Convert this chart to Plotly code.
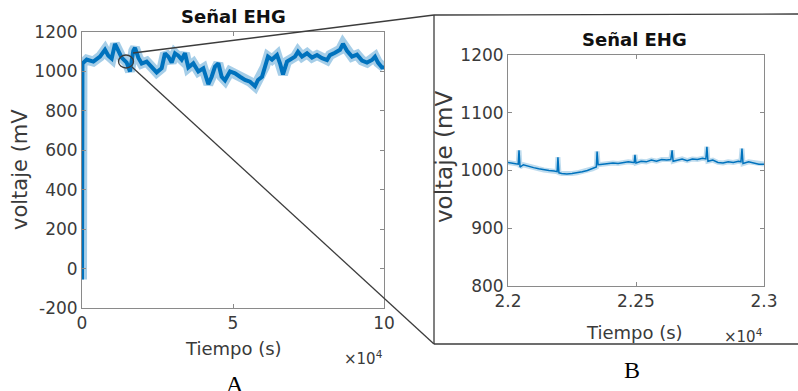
import plotly.graph_objects as go

W, H = 798, 391

# ---------------- data ----------------
# Panel A: full EHG recording (time in s, voltage in mV)
t_full = [0, 150, 1550, 3753, 5960, 7616, 8720, 9823, 10927, 12030, 13134, 14790,
          15894, 16998, 17550, 18653, 19757, 21413, 23068, 24724, 26380, 27483,
          28587, 29691, 30795, 31898, 33002, 34106, 35210, 36865, 38521, 40177,
          41832, 42936, 44040, 45143, 46247, 47351, 49007, 50662, 52318, 53974,
          55629, 57285, 58278, 59603, 60596, 61589, 62914, 64570, 65563, 66556,
          67881, 68874, 70530, 71523, 72848, 74503, 76159, 77815, 79470, 81126,
          82119, 83775, 85430, 86424, 87748, 89404, 91060, 92715, 94371, 96026,
          97020, 98013, 99338, 100000]
v_full = [-55, 1040, 1060, 1050, 1075, 1110, 1080, 1065, 1140, 1100, 1070, 1045,
          1000, 1105, 1120, 1070, 1040, 1050, 1024, 995, 1016, 1092,
          1075, 1045, 1092, 1080, 1060, 1092, 1020, 1041, 1000, 1016,
          935, 973, 1024, 1041, 973, 955, 1000, 990, 973, 957,
          948, 925, 957, 973, 1024, 1075, 1060, 1083, 1041, 985,
          1050, 1058, 1075, 1100, 1075, 1092, 1070, 1083, 1067, 1058,
          1083, 1095, 1110, 1140, 1105, 1075, 1085, 1055, 1045, 1058,
          1075, 1045, 1020, 1020]

# Panel B: zoomed segment 2.2e4 - 2.3e4 s
t_zoom = [22000, 22020, 22040, 22043, 22047, 22060, 22080, 22100, 22120, 22140,
          22160, 22180, 22192, 22195, 22199, 22210, 22230, 22250, 22270, 22290,
          22310, 22330, 22345, 22348, 22352, 22370, 22390, 22410, 22430, 22450,
          22470, 22490, 22493, 22496, 22500, 22520, 22540, 22560, 22580, 22600,
          22620, 22636, 22641, 22645, 22660, 22680, 22700, 22720, 22740, 22760,
          22773, 22777, 22781, 22800, 22820, 22840, 22860, 22880, 22900, 22910,
          22914, 22918, 22940, 22960, 22980, 23000]
v_zoom = [1014, 1012, 1011, 1035, 1006, 1010, 1007, 1005, 1003, 1001,
          1000, 999, 998, 1023, 996, 995, 994, 995, 996, 998,
          1000, 1003, 1006, 1033, 1010, 1011, 1012, 1013, 1012, 1014,
          1015, 1014, 1014, 1027, 1013, 1016, 1015, 1018, 1016, 1019,
          1018, 1019, 1035, 1016, 1018, 1020, 1017, 1020, 1019, 1021,
          1020, 1041, 1016, 1018, 1014, 1013, 1015, 1014, 1016, 1015,
          1038, 1012, 1015, 1013, 1011, 1011]

xt_full = [0, 50000, 100000]
xt_full_lbl = ["0", "5", "10"]
yt_full = [-200, 0, 200, 400, 600, 800, 1000, 1200]
yt_full_lbl = ["-200", "0", "200", "400", "600", "800", "1000", "1200"]
xt_zoom = [22000, 22500, 23000]
xt_zoom_lbl = ["2.2", "2.25", "2.3"]
yt_zoom = [800, 900, 1000, 1100, 1200]

TITLE = "Señal EHG"
XLAB = "Tiempo (s)"
YLAB = "voltaje (mV"
EXP = "×10<sup>4</sup>"

# ---------------- helpers ----------------
def px(x):
    return x / W

def py(y):
    return 1 - y / H

FONT = "DejaVu Sans"
TXT = "#3a3a3a"
AX = "#8a8a8a"
BLUE = "#0072BD"

fig = go.Figure()

fig.add_trace(go.Scatter(x=t_full, y=v_full, mode="lines",
                         line=dict(color="rgba(0,114,189,0.35)", width=10),
                         xaxis="x", yaxis="y", hoverinfo="skip"))
fig.add_trace(go.Scatter(x=t_full, y=v_full, mode="lines",
                         line=dict(color=BLUE, width=4),
                         xaxis="x", yaxis="y"))
fig.add_trace(go.Scatter(x=t_zoom, y=v_zoom, mode="lines",
                         line=dict(color="rgba(0,114,189,0.25)", width=5),
                         xaxis="x2", yaxis="y2", hoverinfo="skip"))
fig.add_trace(go.Scatter(x=t_zoom, y=v_zoom, mode="lines",
                         line=dict(color=BLUE, width=1.5),
                         xaxis="x2", yaxis="y2"))

axcommon = dict(showline=True, linecolor=AX, linewidth=1, mirror="ticks",
                ticks="inside", ticklen=4, tickcolor=AX, showgrid=False,
                zeroline=False, automargin=False,
                tickfont=dict(family=FONT, size=17, color=TXT))

fig.update_layout(
    width=W, height=H, margin=dict(l=0, r=0, t=0, b=0, autoexpand=False),
    paper_bgcolor="white", plot_bgcolor="white", showlegend=False,
    xaxis=dict(domain=[px(82), px(384)], range=[0, 100000], tickvals=xt_full,
               ticktext=xt_full_lbl, anchor="y", **axcommon),
    yaxis=dict(domain=[py(308), py(32)], range=[-200, 1200], tickvals=yt_full,
               ticktext=yt_full_lbl, anchor="x", **axcommon),
    xaxis2=dict(domain=[px(508), px(764)], range=[22000, 23000], tickvals=xt_zoom,
                ticktext=xt_zoom_lbl, anchor="y2", **axcommon),
    yaxis2=dict(domain=[py(286), py(55)], range=[800, 1200], tickvals=yt_zoom,
                anchor="x2", **axcommon),
)

ann = []
def text(x, y, s, size, bold=False, angle=0, family=FONT, color=TXT):
    ann.append(dict(x=px(x), y=py(y), xref="paper", yref="paper",
                    text=("<b>%s</b>" % s) if bold else s,
                    showarrow=False, textangle=angle, xanchor="center", yanchor="middle",
                    font=dict(family=family, size=size, color=color)))

text(233, 17, TITLE, 18, bold=True, color="#111")
text(634, 39, TITLE, 18, bold=True, color="#111")
text(233, 348, XLAB, 18)
text(634, 332, XLAB, 18)
text(20, 170, YLAB, 21, angle=-90)
text(444, 157, YLAB, 23, angle=-90)
text(363, 358, EXP, 15)
text(743, 336, EXP, 15)
text(235, 384, "A", 24, family="Liberation Serif", color="#000")
text(632, 370, "B", 24, family="Liberation Serif", color="#000")
fig.update_layout(annotations=ann)

LINE = dict(color="#3c3c3c", width=1.3)
shapes = [
    # frame around panel B
    dict(type="line", xref="paper", yref="paper", x0=px(434), y0=py(15), x1=px(798), y1=py(14), line=LINE),
    dict(type="line", xref="paper", yref="paper", x0=px(434), y0=py(15), x1=px(434), y1=py(344), line=LINE),
    dict(type="line", xref="paper", yref="paper", x0=px(434), y0=py(344), x1=px(798), y1=py(344), line=LINE),
    # zoom circle
    dict(type="circle", xref="paper", yref="paper", x0=px(118.5), y0=py(55), x1=px(133.5), y1=py(68), line=LINE),
    # connector lines
    dict(type="line", xref="paper", yref="paper", x0=px(133), y0=py(53), x1=px(434), y1=py(15), line=LINE),
    dict(type="line", xref="paper", yref="paper", x0=px(132), y0=py(67), x1=px(434), y1=py(344), line=LINE),
]
fig.update_layout(shapes=shapes)

fig.write_html("out.html", config={"displayModeBar": False},
               post_script="document.body.style.margin='0';document.body.style.overflow='hidden';")
